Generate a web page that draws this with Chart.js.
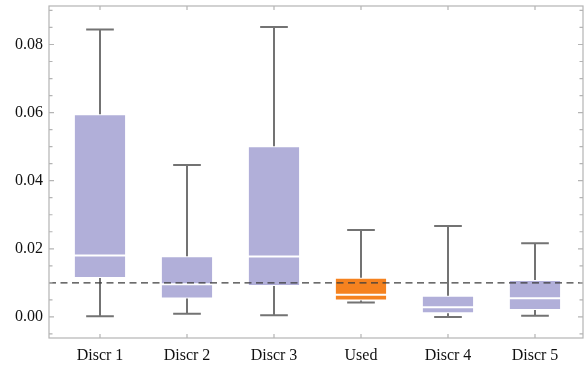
<!DOCTYPE html>
<html>
<head>
<meta charset="utf-8">
<script src="https://cdn.jsdelivr.net/npm/chart.js@4.4.0/dist/chart.umd.min.js"></script>
<style>
  body { margin: 0; background: #fff; }
</style>
</head>
<body>
<canvas id="boxChart" width="585" height="365"></canvas>
<script>
// box plot values
var categories  = ['Discr 1', 'Discr 2', 'Discr 3', 'Used', 'Discr 4', 'Discr 5'];
var whiskerLow  = [0.0002, 0.0009, 0.0005, 0.0042, 0.0000, 0.0003];
var quartile1   = [0.0114, 0.0054, 0.0091, 0.0048, 0.0011, 0.0020];
var medians     = [0.0180, 0.0096, 0.0177, 0.0065, 0.0028, 0.0055];
var quartile3   = [0.0595, 0.0178, 0.0501, 0.0115, 0.0062, 0.0108];
var whiskerHigh = [0.0844, 0.0446, 0.0851, 0.0255, 0.0267, 0.0216];
var referenceLevel = 0.01;
var yTickValues = [0, 0.02, 0.04, 0.06, 0.08];
var highlighted = 'Used';

var boxColor = '#b1afd9';
var usedColor = '#f5821f';
var frameColor = '#b4b4b4';

var boxes = categories.map(function (c, i) {
    return { x: i, y: [quartile1[i], quartile3[i]] };
});

var boxExtras = {
    id: 'boxExtras',
    afterDatasetsDraw: function (chart) {
        var ctx = chart.ctx;
        var ys = chart.scales.y;
        var area = chart.chartArea;
        var bars = chart.getDatasetMeta(0).data;
        ctx.save();

        // whiskers + caps
        ctx.strokeStyle = '#737373';
        ctx.lineWidth = 2;
        bars.forEach(function (bar, i) {
            var x = Math.round(bar.x);
            var half = bar.width * 0.265;
            var yLo = ys.getPixelForValue(whiskerLow[i]);
            var yQ1 = ys.getPixelForValue(quartile1[i]);
            var yQ3 = ys.getPixelForValue(quartile3[i]);
            var yHi = ys.getPixelForValue(whiskerHigh[i]);
            ctx.beginPath();
            ctx.moveTo(x, yHi); ctx.lineTo(x, yQ3);
            ctx.moveTo(x, yQ1); ctx.lineTo(x, yLo);
            ctx.moveTo(x - half, yHi); ctx.lineTo(x + half, yHi);
            ctx.moveTo(x - half, yLo); ctx.lineTo(x + half, yLo);
            ctx.stroke();
        });

        // medians
        ctx.strokeStyle = '#ffffff';
        ctx.lineWidth = 2;
        bars.forEach(function (bar, i) {
            var y = ys.getPixelForValue(medians[i]);
            ctx.beginPath();
            ctx.moveTo(bar.x - bar.width / 2, y);
            ctx.lineTo(bar.x + bar.width / 2, y);
            ctx.stroke();
        });

        // reference level
        var yRef = ys.getPixelForValue(referenceLevel);
        ctx.strokeStyle = '#3c3c3c';
        ctx.lineWidth = 1.3;
        ctx.setLineDash([7, 4.5]);
        ctx.beginPath();
        ctx.moveTo(area.left, yRef);
        ctx.lineTo(area.right, yRef);
        ctx.stroke();
        ctx.restore();
    },
    afterDraw: function (chart) {
        var ctx = chart.ctx;
        var xs = chart.scales.x;
        var ys = chart.scales.y;
        var a = chart.chartArea;
        ctx.save();
        ctx.strokeStyle = frameColor;
        ctx.lineWidth = 1.2;
        ctx.strokeRect(a.left, a.top, a.right - a.left, a.bottom - a.top);

        // inward ticks, mirrored on all four sides
        ctx.beginPath();
        for (var v = -0.005; v <= 0.0905; v += 0.005) {
            var y = ys.getPixelForValue(v);
            var major = Math.abs(v / 0.02 - Math.round(v / 0.02)) < 1e-6;
            var len = major ? 5 : 3.5;
            ctx.moveTo(a.left, y); ctx.lineTo(a.left + len, y);
            ctx.moveTo(a.right, y); ctx.lineTo(a.right - len, y);
        }
        categories.forEach(function (c, i) {
            var x = Math.round(xs.getPixelForValue(i));
            ctx.moveTo(x, a.bottom); ctx.lineTo(x, a.bottom - 4);
            ctx.moveTo(x, a.top); ctx.lineTo(x, a.top + 4);
        });
        ctx.stroke();
        ctx.restore();
    }
};

var ctx = document.getElementById('boxChart').getContext('2d');
var boxChart = new Chart(ctx, {
    type: 'bar',
    data: {
        datasets: [{
            data: boxes,
            backgroundColor: categories.map(function (c) { return c === highlighted ? usedColor : boxColor; }),
            borderColor: 'rgba(255,255,255,0.55)',
            borderWidth: 1,
            borderSkipped: false,
            barPercentage: 0.6,
            categoryPercentage: 1
        }]
    },
    options: {
        responsive: false,
        animation: false,
        layout: { padding: { top: 6, right: 2, left: 0, bottom: 0 } },
        plugins: {
            legend: { display: false },
            tooltip: { enabled: false }
        },
        scales: {
            x: {
                type: 'linear',
                offset: false,
                min: -0.586,
                max: 5.552,
                grid: { display: false, drawTicks: false },
                border: { display: false },
                afterFit: function (scale) {
                    scale.height = 27;
                    scale.paddingLeft = 0;
                    scale.paddingRight = 0;
                },
                ticks: {
                    stepSize: 1,
                    includeBounds: false,
                    autoSkip: false,
                    maxRotation: 0,
                    padding: 8,
                    color: '#111',
                    font: { family: 'Liberation Serif', size: 16 },
                    callback: function (v) { return categories[v] !== undefined ? categories[v] : ''; }
                }
            },
            y: {
                min: -0.0062,
                max: 0.0913,
                grid: { display: false, drawTicks: false },
                border: { display: false },
                afterFit: function (scale) {
                    scale.width = 49;
                    scale.paddingTop = 0;
                    scale.paddingBottom = 0;
                },
                afterBuildTicks: function (scale) {
                    scale.ticks = yTickValues.map(function (v) { return { value: v }; });
                },
                ticks: {
                    padding: 6,
                    color: '#111',
                    font: { family: 'Liberation Serif', size: 16 },
                    callback: function (v) { return v.toFixed(2); }
                }
            }
        }
    },
    plugins: [boxExtras]
});
</script>
</body>
</html>
